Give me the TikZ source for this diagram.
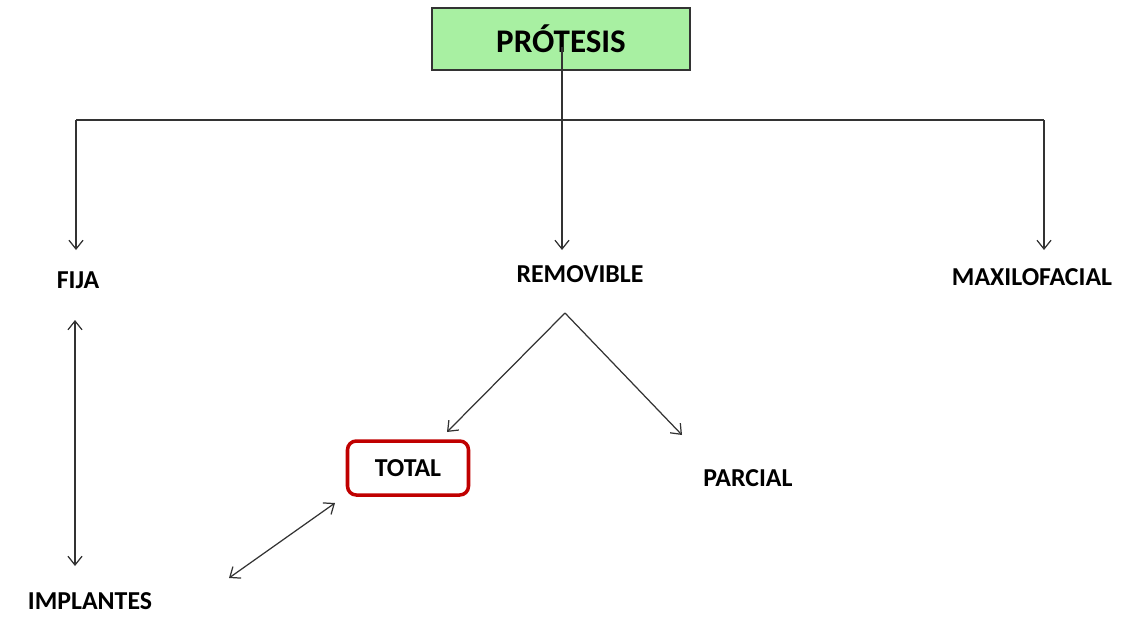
\documentclass[tikz,border=0pt]{standalone}
\usepackage{fontspec}
\setmainfont{Carlito}
\usetikzlibrary{arrows.meta}
\definecolor{boxgreen}{HTML}{A8F0A2}
\definecolor{boxred}{HTML}{C00000}
\definecolor{linegray}{HTML}{333333}
\tikzset{
  label/.style={font=\bfseries\fontsize{14.7}{16}\selectfont, inner sep=0pt},
  line/.style={draw=linegray, line width=0.7pt},
  arrow/.style={line, -{Straight Barb[length=5pt,width=8pt]}},
  both/.style={line, {Straight Barb[length=5pt,width=8pt]}-{Straight Barb[length=5pt,width=8pt]}}
}
\begin{document}
\begin{tikzpicture}[x=0.02cm,y=-0.02cm]%
\useasboundingbox (0,0) rectangle (1147,616);%
%
% top box
\node[draw=linegray, fill=boxgreen, line width=0.8pt, minimum width=258*0.02cm, minimum height=62*0.02cm, font=\bfseries\fontsize{18.8}{20}\selectfont] (protesis) at (561,39) {PRÓTESIS};%
\coordinate (top) at (562,47);%
\coordinate (join) at (562,120);%
\coordinate (left) at (76,120);%
\coordinate (right) at (1044,120);%
%
% first level
\node[label] (fija) at (78,280) {FIJA};%
\node[label] (removible) at (580,274) {REMOVIBLE};%
\node[label] (maxilo) at (1032,277) {MAXILOFACIAL};%
\coordinate (fijaend) at (76,250);%
\coordinate (remend) at (562,250);%
\coordinate (maxend) at (1044,250);%
%
% second level
\node[label, draw=boxred, line width=2pt, rounded corners=5pt, minimum width=121*0.02cm, minimum height=54*0.02cm] (total) at (408,468) {TOTAL};%
\node[label] (parcial) at (748,478) {PARCIAL};%
\node[label] (implantes) at (90,601) {IMPLANTES};%
\coordinate (split) at (565,313);%
\coordinate (totalend) at (447,432);%
\coordinate (parcialend) at (682,435);%
%
% tree
\draw[line] (top) -- (join);%
\draw[line] (left) -- (right);%
\draw[arrow] (left) -- (fijaend);%
\draw[arrow] (join) -- (remend);%
\draw[arrow] (right) -- (maxend);%
%
\draw[arrow] (split) -- (totalend);%
\draw[arrow] (split) -- (parcialend);%
%
% links
\coordinate (fijalow) at (75,320);%
\coordinate (implup) at (75,566);%
\coordinate (totallow) at (335,503);%
\coordinate (impllink) at (229,578);%
\draw[both] (fijalow) -- (implup);%
\draw[both] (totallow) -- (impllink);%
%
\end{tikzpicture}
\end{document}
